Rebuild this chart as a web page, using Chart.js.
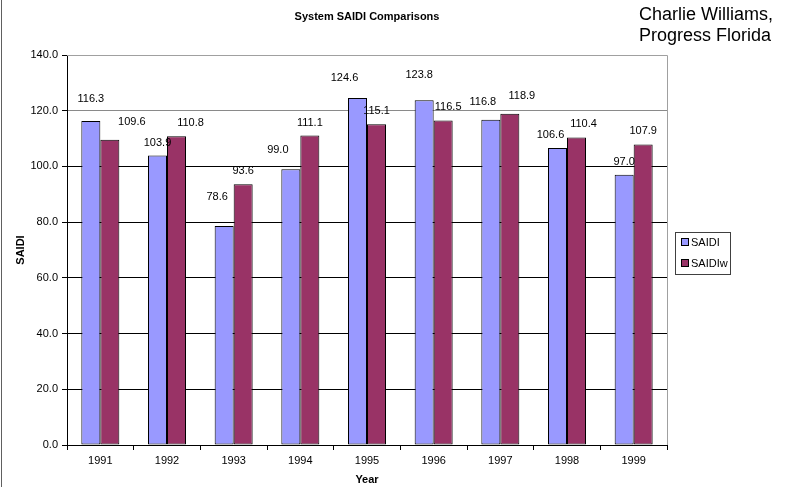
<!DOCTYPE html>
<html>
<head>
<meta charset="utf-8">
<script src="https://cdn.jsdelivr.net/npm/chart.js@4"></script>
<style>
    html, body { margin: 0; padding: 0; background: #fff; }
    #wrap { position: relative; width: 800px; height: 487px; overflow: hidden; }
    #note {
        position: absolute; left: 639px; top: 4px;
        font: 18px Arial, "Liberation Sans", sans-serif; line-height: 21px;
        color: #000; white-space: nowrap;
    }
</style>
</head>
<body>
<div id="wrap">
    <canvas id="chart" width="800" height="487"></canvas>
    <div id="note">Charlie Williams,<br>Progress Florida</div>
</div>
<script>
    const years = ['1991', '1992', '1993', '1994', '1995', '1996', '1997', '1998', '1999'];
    const saidi = [116.3, 103.9, 78.6, 99.0, 124.6, 123.8, 116.8, 106.6, 97.0];
    const saidiW = [109.6, 110.8, 93.6, 111.1, 115.1, 116.5, 118.9, 110.4, 107.9];
    const yTicks = [0, 20, 40, 60, 80, 100, 120, 140];

    // label nudges (px) copying Excel's placement
    const saidiNudge = [[0, -9], [0, 0], [-7, -16], [-13, -6], [-13, -7], [-5, -12], [-8, -5], [-7, 0], [0, 0]];
    const saidiWNudge = [[22, -5], [14, 0], [0, 0], [0, 0], [0, 0], [5, 0], [12, -5], [7, 0], [0, 0]];

    const FONT = 'Arial, "Liberation Sans", sans-serif';

    const extras = {
        id: 'extras',
        afterDatasetsDraw(chart) {
            const { ctx, chartArea: a } = chart;
            ctx.save();
            // plot border top/right
            ctx.strokeStyle = '#a0a0a0';
            ctx.lineWidth = 1;
            ctx.beginPath();
            ctx.moveTo(a.left, a.top + 0.5);
            ctx.lineTo(a.right + 0.5, a.top + 0.5);
            ctx.lineTo(a.right + 0.5, a.bottom);
            ctx.stroke();

            // left slide edge
            ctx.strokeStyle = '#606060';
            ctx.beginPath();
            ctx.moveTo(1.5, 0);
            ctx.lineTo(1.5, chart.height);
            ctx.stroke();

            // value labels
            ctx.fillStyle = '#000';
            ctx.font = '11px ' + FONT;
            ctx.textAlign = 'center';
            ctx.textBaseline = 'middle';
            const nudges = [saidiNudge, saidiWNudge];
            chart.data.datasets.forEach((ds, di) => {
                chart.getDatasetMeta(di).data.forEach((bar, i) => {
                    const [dx, dy] = nudges[di][i];
                    ctx.fillText(ds.data[i].toFixed(1), bar.x + dx, bar.y - 13 + dy);
                });
            });

            // legend
            const lx = 675, ly = 232;
            ctx.strokeStyle = '#404040';
            ctx.strokeRect(lx + 0.5, ly + 0.5, 55, 42);
            ctx.textAlign = 'left';
            chart.data.datasets.forEach((ds, di) => {
                const y = ly + 10 + di * 21;
                ctx.fillStyle = ds.backgroundColor;
                ctx.fillRect(lx + 6.5, y - 3.5, 7, 7);
                ctx.strokeStyle = '#000';
                ctx.strokeRect(lx + 6.5, y - 3.5, 7, 7);
                ctx.fillStyle = '#000';
                ctx.fillText(ds.label, lx + 16, y + 1);
            });
            ctx.restore();
        }
    };

    new Chart(document.getElementById('chart'), {
        type: 'bar',
        data: {
            labels: years,
            datasets: [
                { label: 'SAIDI', data: saidi, backgroundColor: '#9999FF' },
                { label: 'SAIDIw', data: saidiW, backgroundColor: '#993366' },
            ],
        },
        options: {
            responsive: false,
            animation: false,
            layout: { padding: { left: 0, right: 133, top: 0, bottom: 0 } },
            datasets: {
                bar: {
                    borderColor: '#000',
                    borderWidth: 1,
                    borderSkipped: false,
                    categoryPercentage: 0.57,
                    barPercentage: 1,
                },
            },
            plugins: {
                legend: { display: false },
                tooltip: { enabled: false },
                title: {
                    display: true,
                    text: 'System SAIDI Comparisons',
                    fullSize: false,
                    color: '#000',
                    font: { family: FONT, size: 11, weight: 'bold' },
                    padding: { top: 10, bottom: 31.8 },
                },
            },
            scales: {
                x: {
                    offset: true,
                    afterFit: s => { s.height = 42; },
                    grid: {
                        offset: true,
                        drawOnChartArea: false,
                        color: '#000',
                        tickLength: 5,
                    },
                    border: { color: '#000' },
                    ticks: { color: '#000', font: { family: FONT, size: 11 }, padding: 4 },
                    title: {
                        display: true,
                        text: 'Year',
                        color: '#000',
                        font: { family: FONT, size: 11, weight: 'bold' },
                        padding: { top: 3, bottom: 0 },
                    },
                },
                y: {
                    min: 0,
                    max: 140,
                    afterFit: s => { s.width = 67; },
                    afterBuildTicks: s => { s.ticks = yTicks.map(v => ({ value: v })); },
                    grid: {
                        color: c => (c.tick && c.tick.value >= 120 ? '#8a8a8a' : '#000'),
                        tickColor: '#000',
                        tickLength: 5,
                    },
                    border: { color: '#000' },
                    ticks: {
                        color: '#000',
                        font: { family: FONT, size: 11 },
                        padding: 4,
                        callback: v => v.toFixed(1),
                    },
                    title: {
                        display: true,
                        text: 'SAIDI',
                        color: '#000',
                        font: { family: FONT, size: 11, weight: 'bold' },
                        padding: { top: 14, bottom: 0 },
                    },
                },
            },
        },
        plugins: [extras],
    });
</script>
</body>
</html>
